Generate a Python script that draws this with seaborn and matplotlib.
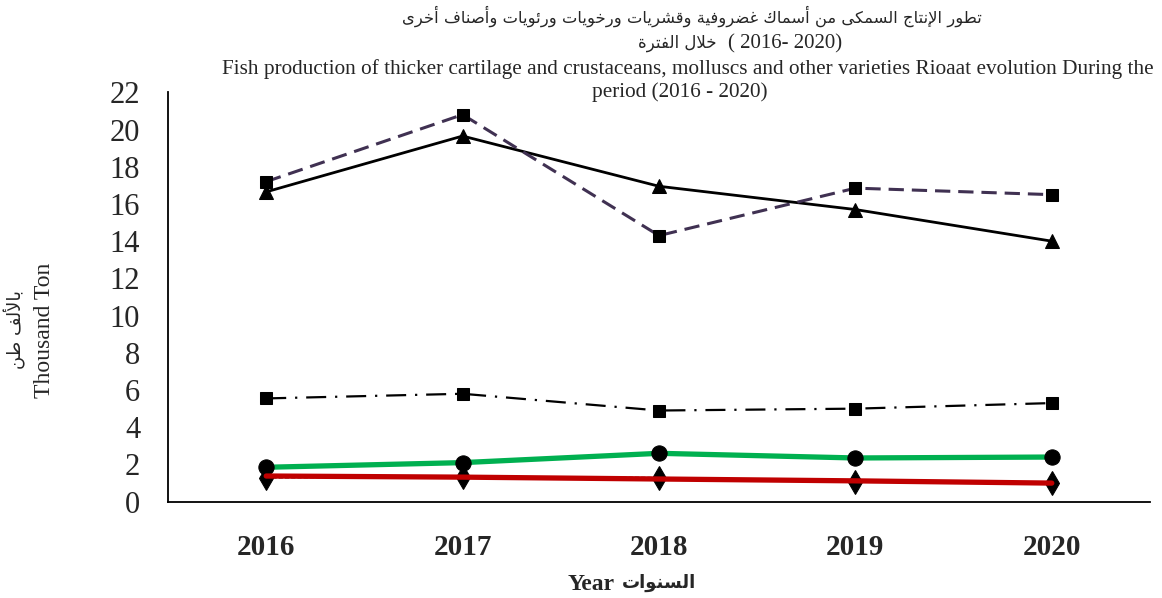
import matplotlib
matplotlib.use("Agg")
import matplotlib.pyplot as plt
import seaborn as sns
import numpy as np
from matplotlib.ticker import FixedLocator

# ---------------- data ----------------
years = [2016, 2017, 2018, 2019, 2020]
s_dashed_sq = [17.2, 20.8, 14.3, 16.85, 16.5]
s_solid_tri = [16.65, 19.65, 16.95, 15.7, 14.0]
s_dashdot_sq = [5.55, 5.8, 4.9, 5.0, 5.3]
s_green_circ = [1.85, 2.1, 2.6, 2.35, 2.4]
s_dash_diam = [1.28, 1.35, 1.3, 1.07, 1.0]
s_red = [1.38, 1.32, 1.22, 1.12, 1.0]
ytick_values = list(range(0, 23, 2))

title_ar1 = "تطور الإنتاج السمكى من أسماك غضروفية وقشريات ورخويات ورئويات وأصناف أخرى"
title_ar2 = "خلال الفترة"
title_ar2_num = "( 2016- 2020)"
title_en1 = "Fish production of thicker cartilage and crustaceans, molluscs and other varieties Rioaat evolution During the"
title_en2 = "period (2016 - 2020)"
ylabel_ar = "بالألف طن"
ylabel_en = "Thousand Ton"
xlabel_ar = "السنوات"
xlabel_en = "Year"

# ---------------- minimal Arabic shaping ----------------
_FORMS = {
    'ء': (0xFE80, 1), 'آ': (0xFE81, 2), 'أ': (0xFE83, 2), 'ؤ': (0xFE85, 2),
    'إ': (0xFE87, 2), 'ئ': (0xFE89, 4), 'ا': (0xFE8D, 2), 'ب': (0xFE8F, 4),
    'ة': (0xFE93, 2), 'ت': (0xFE95, 4), 'ث': (0xFE99, 4), 'ج': (0xFE9D, 4),
    'ح': (0xFEA1, 4), 'خ': (0xFEA5, 4), 'د': (0xFEA9, 2), 'ذ': (0xFEAB, 2),
    'ر': (0xFEAD, 2), 'ز': (0xFEAF, 2), 'س': (0xFEB1, 4), 'ش': (0xFEB5, 4),
    'ص': (0xFEB9, 4), 'ض': (0xFEBD, 4), 'ط': (0xFEC1, 4), 'ظ': (0xFEC5, 4),
    'ع': (0xFEC9, 4), 'غ': (0xFECD, 4), 'ف': (0xFED1, 4), 'ق': (0xFED5, 4),
    'ك': (0xFED9, 4), 'ل': (0xFEDD, 4), 'م': (0xFEE1, 4), 'ن': (0xFEE5, 4),
    'ه': (0xFEE9, 4), 'و': (0xFEED, 2), 'ى': (0xFEEF, 2), 'ي': (0xFEF1, 4),
}
_LAMALEF = {'آ': 0xFEF5, 'أ': 0xFEF7, 'إ': 0xFEF9, 'ا': 0xFEFB}


def shape_ar(text):
    units = []
    i = 0
    while i < len(text):
        c = text[i]
        if c == 'ل' and i + 1 < len(text) and text[i + 1] in _LAMALEF:
            units.append(('LIG', _LAMALEF[text[i + 1]]))
            i += 2
            continue
        units.append(('CH', c))
        i += 1

    def jtype(u):
        if u[0] == 'LIG':
            return 2
        return _FORMS[u[1]][1] if u[1] in _FORMS else 0

    out = []
    for k, u in enumerate(units):
        jt = jtype(u)
        prev_joins = k > 0 and jtype(units[k - 1]) == 4 and jt in (2, 4)
        next_joins = jt == 4 and k + 1 < len(units) and jtype(units[k + 1]) in (2, 4)
        if u[0] == 'LIG':
            out.append(chr(u[1] + (1 if prev_joins else 0)))
            continue
        c = u[1]
        if jt == 0:
            out.append(c)
            continue
        base = _FORMS[c][0]
        if jt == 1:
            out.append(chr(base))
        elif jt == 2:
            out.append(chr(base + (1 if prev_joins else 0)))
        else:
            if prev_joins and next_joins:
                out.append(chr(base + 3))
            elif prev_joins:
                out.append(chr(base + 1))
            elif next_joins:
                out.append(chr(base + 2))
            else:
                out.append(chr(base))
    return ''.join(out)[::-1]


# ---------------- plot ----------------
sns.set_theme(style="white")
plt.rcParams['font.family'] = ['Liberation Serif', 'DejaVu Sans']

fig = plt.figure(figsize=(11.62, 5.98), dpi=100)
ax = fig.add_axes([168 / 1162, 1 - 501.7 / 598, (1150 - 168) / 1162, (501.7 - 92.3) / 598])

l1 = sns.lineplot(x=years, y=s_dashed_sq, ax=ax, color="#403152", lw=2.2,
                  marker="s", markersize=9, markerfacecolor="black", markeredgecolor="black",
                  zorder=4).lines[-1]
l1.set_dashes((5, 2.6))
sns.lineplot(x=years, y=s_solid_tri, ax=ax, color="black", lw=2.0,
             marker="^", markersize=10, markerfacecolor="black", markeredgecolor="black",
             zorder=3)
l3 = sns.lineplot(x=years, y=s_dashdot_sq, ax=ax, color="black", lw=1.6,
                  marker="s", markersize=9, markerfacecolor="black", markeredgecolor="black",
                  zorder=3).lines[-1]
l3.set_dashes((9, 4, 1, 4))
sns.lineplot(x=years, y=s_green_circ, ax=ax, color="#00B050", lw=3.8,
             marker="o", markersize=11, markerfacecolor="black", markeredgecolor="black",
             zorder=3)
l5 = sns.lineplot(x=years, y=s_dash_diam, ax=ax, color="black", lw=1.0,
                  marker="d", markersize=12.5, markerfacecolor="black", markeredgecolor="black",
                  zorder=3).lines[-1]
l5.set_dashes((3, 1.5))
sns.lineplot(x=years, y=s_red, ax=ax, color="#C00000", lw=3.8, zorder=5)

ax.set_xlim(2015.5, 2020.5)
ax.set_ylim(0, 22)
ax.set_yticks(ytick_values)
ax.set_yticklabels([str(v) for v in ytick_values], fontsize=22, fontfamily='Liberation Serif')
ax.set_xticks(years)
ax.set_xticklabels([str(y) for y in years], fontsize=21, fontweight='bold',
                   fontfamily='Liberation Serif')
ax.xaxis.set_minor_locator(FixedLocator([2016.5, 2017.5, 2018.5, 2019.5]))
ax.tick_params(axis='x', which='major', length=0, pad=23)
ax.tick_params(axis='x', which='minor', length=6, width=1, color='#7f7f7f', direction='out')
ax.tick_params(axis='y', which='major', length=6, width=1, color='#7f7f7f', direction='out', pad=14)
ax.tick_params(axis='y', which='minor', length=0)

for s in ['top', 'right']:
    ax.spines[s].set_visible(False)
for s in ['left', 'bottom']:
    ax.spines[s].set_color('black')
    ax.spines[s].set_linewidth(1.3)
ax.grid(False)
ax.set_xlabel("")
ax.set_ylabel("")

# titles
cx = 692 / 1162
fig.text(cx, 1 - 16 / 598, shape_ar(title_ar1), ha='center', va='center',
         fontsize=11.8, family=['DejaVu Sans'])
fig.text(716 / 1162, 1 - 43 / 598, shape_ar(title_ar2), ha='right', va='center',
         fontsize=12, family=['DejaVu Sans'])
fig.text(728 / 1162, 1 - 44 / 598, title_ar2_num, ha='left', va='center',
         fontsize=15, family=['Liberation Serif'])
fig.text(688 / 1162, 1 - 69 / 598, title_en1, ha='center', va='center', fontsize=15.3,
         family=['Liberation Serif'])
fig.text(680 / 1162, 1 - 92 / 598, title_en2, ha='center', va='center', fontsize=15.3,
         family=['Liberation Serif'])

# y label
fig.text(15 / 1162, 1 - 330 / 598, shape_ar(ylabel_ar), rotation=90, ha='center', va='center',
         fontsize=13, family=['DejaVu Sans'])
fig.text(45 / 1162, 1 - 330 / 598, ylabel_en, rotation=90, ha='center', va='center',
         fontsize=17, family=['Liberation Serif'])

# x label
fig.text(591 / 1162, 1 - 584 / 598, xlabel_en, ha='center', va='center',
         fontsize=17, fontweight='bold', family=['Liberation Serif'])
fig.text(622 / 1162, 1 - 583 / 598, shape_ar(xlabel_ar), ha='left', va='center',
         fontsize=13, fontweight='bold', family=['DejaVu Sans'])

fig.savefig("out.png", dpi=100, facecolor="white")
